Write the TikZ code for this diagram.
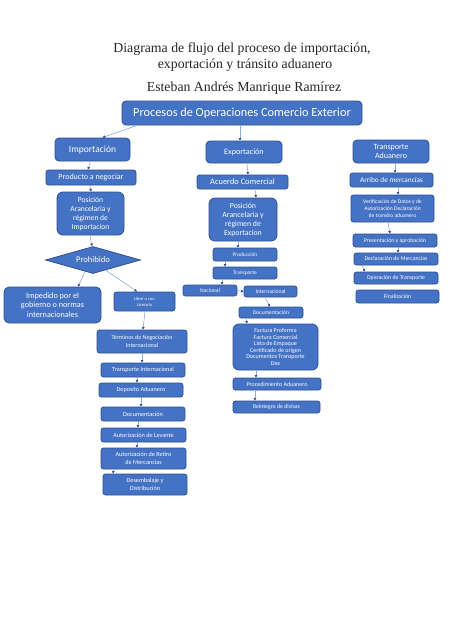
\documentclass[tikz,border=0pt]{standalone}
\usepackage{fontspec}
\setmainfont{Liberation Serif}
\newfontfamily\calf{Carlito}
\usetikzlibrary{shapes.geometric,arrows.meta}
\definecolor{bfill}{HTML}{4472C4}
\definecolor{bdraw}{HTML}{2F528F}
\definecolor{conncol}{HTML}{8FAADC}
\definecolor{tipcol}{HTML}{2F528F}
\newcommand{\fsz}[2]{\fontsize{#1}{#2}\selectfont}
\begin{document}
\begin{tikzpicture}[x=1pt,y=-1pt,
  box/.style={draw=bdraw,fill=bfill,line width=0.8pt,rounded corners=2.5pt,text=white,align=center,inner sep=0pt,font=\calf},
  bigbox/.style={box,rounded corners=6pt},
  link/.style={draw=conncol,line width=0.6pt,-{Triangle[length=2.6pt,width=2.6pt,color=tipcol]}},
  ttl/.style={inner sep=0pt,align=center,text=black!85}]
\fill[white] (0,0) rectangle (474,632);
\useasboundingbox (0,0) rectangle (474,632);

% titles
\node[ttl,font=\fsz{13.8}{16}] (t1) at (242,49) {Diagrama de flujo del proceso de importación,};
\node[ttl,font=\fsz{13.8}{16}] (t2) at (245,65) {exportación y tránsito aduanero};
\node[ttl,font=\fsz{13.8}{16}] (t3) at (244,88) {Esteban Andrés Manrique Ramírez};

% main
\node[box,rounded corners=4pt,minimum width=240pt,minimum height=24pt,font=\calf\fsz{12.3}{14}] (main) at (242,113) {Procesos de Operaciones Comercio Exterior};

% left column
\node[box,rounded corners=4pt,minimum width=75pt,minimum height=23pt,font=\calf\fsz{9.5}{11}] (imp) at (92.5,149.5) {Importación};
\node[box,minimum width=90pt,minimum height=15pt,font=\calf\fsz{8}{10}] (prod) at (91,177.5) {Producto a negociar};
\node[bigbox,minimum width=67pt,minimum height=43pt,font=\calf\fsz{7.6}{9}] (posi) at (90.5,213.5) {Posición\\Arancelaria y\\régimen de\\Importacion};
\node[draw=bdraw,fill=bfill,line width=0.8pt,diamond,aspect=3.5,inner sep=0pt,minimum width=95pt,minimum height=27pt,text=white,font=\calf\fsz{8.6}{10}] (dia) at (93,260) {Prohibido};
\node[bigbox,rounded corners=5pt,minimum width=97pt,minimum height=36pt,font=\calf\fsz{8.2}{9.4}] (imped) at (52.5,305) {Impedido por el\\gobierno o normas\\internacionales};
\node[box,minimum width=61pt,minimum height=19pt,font=\calf\fsz{4.6}{6}] (libre) at (144.5,301.5) {Libre o con\\Licencia};
\node[box,minimum width=90pt,minimum height=23pt,font=\calf\fsz{6}{7.5}] (term) at (142,341.5) {Términos de Negociación\\Internacional};
\node[box,minimum width=84pt,minimum height=14pt,font=\calf\fsz{6.2}{7.5}] (tint) at (143,370) {Transporte Internacional};
\node[box,minimum width=84pt,minimum height=14pt,font=\calf\fsz{6.2}{7.5}] (dep) at (141,390) {Deposito Aduanero};
\node[box,minimum width=84pt,minimum height=14pt,font=\calf\fsz{6.2}{7.5}] (doca) at (143,414) {Documentación};
\node[box,minimum width=85pt,minimum height=14pt,font=\calf\fsz{6.2}{7.5}] (lev) at (143.5,435) {Autorización de Levante};
\node[box,minimum width=85pt,minimum height=21pt,font=\calf\fsz{6.2}{7.5}] (ret) at (143.5,458.5) {Autorización de Retiro\\de Mercancias};
\node[box,minimum width=84pt,minimum height=21pt,font=\calf\fsz{6.2}{8}] (des) at (145,484.5) {Desembalaje y\\Distribución};

% middle column
\node[box,rounded corners=4pt,minimum width=76pt,minimum height=22pt,font=\calf\fsz{8.2}{10}] (exp) at (244,152) {Exportación};
\node[box,minimum width=91pt,minimum height=14pt,font=\calf\fsz{8.4}{10}] (acu) at (242.5,182) {Acuerdo Comercial};
\node[bigbox,minimum width=68pt,minimum height=43pt,font=\calf\fsz{7.8}{9}] (pose) at (243,219.5) {Posición\\Arancelaria y\\régimen de\\Exportacion};
\node[box,minimum width=64pt,minimum height=13pt,font=\calf\fsz{5.4}{7}] (prodc) at (245,254.5) {Producción};
\node[box,minimum width=64pt,minimum height=12pt,font=\calf\fsz{5.4}{7}] (transp) at (245,273) {Transporte};
\node[box,minimum width=54pt,minimum height=11pt,font=\calf\fsz{5.6}{7}] (nac) at (210,290.5) {Nacional};
\node[box,minimum width=53pt,minimum height=11pt,font=\calf\fsz{5.6}{7}] (intl) at (270.5,291.5) {Internacional};
\node[box,minimum width=64pt,minimum height=11pt,font=\calf\fsz{5.6}{7}] (docb) at (271,312.5) {Documentación};
\node[bigbox,minimum width=85pt,minimum height=46pt,font=\calf\fsz{6}{6.5}] (fact) at (275.5,347) {Factura Proforma\\Factura Comercial\\Lista de Empaque\\Certificado de origen\\Documentos Transporte\\Dex};
\node[box,minimum width=88pt,minimum height=12pt,font=\calf\fsz{6}{7}] (proc) at (277,384) {Procedimiento Aduanero};
\node[box,minimum width=87pt,minimum height=12pt,font=\calf\fsz{5.8}{7}] (rein) at (276.5,407) {Reintegro de divisas};

% right column
\node[box,rounded corners=4pt,minimum width=76pt,minimum height=23pt,font=\calf\fsz{8}{9.5}] (ta) at (391,151.5) {Transporte\\Aduanero};
\node[box,minimum width=83pt,minimum height=14pt,font=\calf\fsz{7.3}{9}] (arr) at (391.5,180) {Arribo de mercancías};
\node[box,minimum width=83pt,minimum height=27pt,font=\calf\fsz{5.6}{6.8}] (ver) at (392.5,208.5) {Verificación de Datos y de\\Autorización Declaración\\de transito aduanero};
\node[box,minimum width=84pt,minimum height=13pt,font=\calf\fsz{5.8}{7}] (pres) at (395,240.5) {Presentación y aprobación};
\node[box,minimum width=84pt,minimum height=12pt,font=\calf\fsz{5.8}{7}] (decl) at (396,259) {Declaración de Mercancias};
\node[box,minimum width=84pt,minimum height=12pt,font=\calf\fsz{5.8}{7}] (oper) at (396,278) {Operación de Transporte};
\node[box,minimum width=83pt,minimum height=13pt,font=\calf\fsz{5.8}{7}] (fin) at (397.5,296.5) {Finalización};

% connectors
\draw[link] ([xshift=-105pt]main.south) -- ([xshift=10pt]imp.north);
\draw[link] ([xshift=-2pt]main.south) -- ([xshift=-4pt]exp.north);
\draw[link] ([xshift=-2pt]imp.south) -- ([xshift=-3pt]prod.north);
\draw[link] ([xshift=-1pt]prod.south) -- ([xshift=0.5pt]posi.north);
\draw[link] ([xshift=-0.5pt]posi.south) -- ([xshift=-1pt]dia.north);
\draw[link] ([xshift=-8pt,yshift=2pt]dia.south) -- ([xshift=25.5pt]imped.north);
\draw[link] ([xshift=13pt,yshift=3.5pt]dia.south) -- ([xshift=-7.5pt]libre.north);
\draw[link] ([xshift=0.5pt]libre.south) -- ([xshift=1pt]term.north);
\draw[link] ([xshift=0pt]term.south) -- ([xshift=-1pt]tint.north);
\draw[link] ([xshift=-6pt]tint.south) -- ([xshift=-4pt]dep.north);
\draw[link] ([xshift=0pt]dep.south) -- ([xshift=-2pt]doca.north);
\draw[link] ([xshift=-5pt]doca.south) -- ([xshift=-5.5pt]lev.north);
\draw[link] ([xshift=-6.5pt]lev.south) -- ([xshift=-6.5pt]ret.north);
\draw[link] ([xshift=-30pt]ret.south) -- ([xshift=-32pt]des.north);

\draw[link] ([xshift=3pt]exp.south) -- ([xshift=5.5pt]acu.north);
\draw[link] ([xshift=12.5pt]acu.south) -- ([xshift=13pt]pose.north);
\draw[link] ([xshift=-5pt]pose.south) -- ([xshift=-7pt]prodc.north);
\draw[link] ([xshift=-20pt]prodc.south) -- ([xshift=-20pt]transp.north);
\draw[link] ([xshift=-23pt]transp.south) -- ([xshift=12pt]nac.north);
\draw[link] (nac.east) -- (intl.west);
\draw[link] ([xshift=-5.5pt]intl.south) -- ([xshift=-1pt]docb.north);
\draw[link] ([xshift=-25pt]docb.south) -- ([xshift=-28.5pt]fact.north);
\draw[link] ([xshift=-19.5pt]fact.south) -- ([xshift=-21pt]proc.north);
\draw[link] ([xshift=-22pt]proc.south) -- ([xshift=-21.5pt]rein.north);

\draw[link] ([xshift=4pt]ta.south) -- ([xshift=3.5pt]arr.north);
\draw[link] ([xshift=6.5pt]arr.south) -- ([xshift=5.5pt]ver.north);
\draw[link] ([xshift=-4.5pt]ver.south) -- ([xshift=-5pt]pres.north);
\draw[link] ([xshift=3pt]pres.south) -- ([xshift=2pt]decl.north);
\draw[link] ([xshift=-34pt]decl.south) -- ([xshift=-31pt]oper.north);
\end{tikzpicture}
\end{document}
